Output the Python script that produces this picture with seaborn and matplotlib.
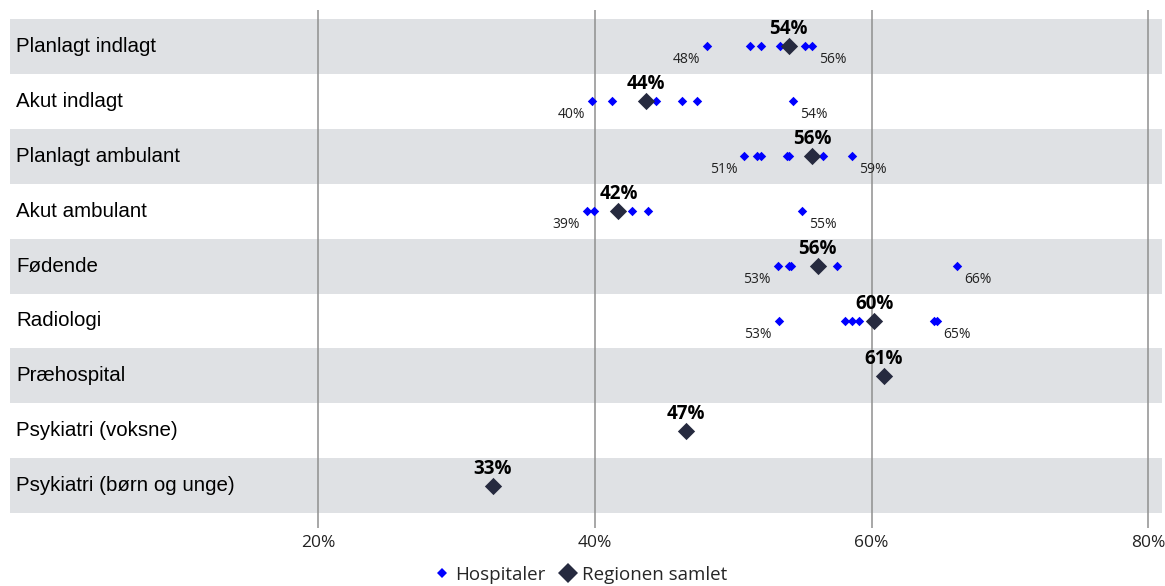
import pandas as pd
import seaborn as sns
import matplotlib.pyplot as plt
from matplotlib.lines import Line2D
from matplotlib.ticker import FuncFormatter

# Data (andel i %)
kategorier = [
    "Planlagt indlagt", "Akut indlagt", "Planlagt ambulant", "Akut ambulant",
    "Fødende", "Radiologi", "Præhospital", "Psykiatri (voksne)",
    "Psykiatri (børn og unge)",
]
hospitaler = [
    [48.1, 51.2, 52.0, 53.4, 55.2, 55.7],
    [39.8, 41.2, 44.4, 46.3, 47.4, 54.3],
    [50.8, 51.7, 52.0, 53.9, 54.0, 56.5, 58.6],
    [39.4, 39.95, 42.7, 43.8, 55.0],
    [53.2, 54.0, 54.2, 57.5, 66.2],
    [53.3, 58.1, 58.6, 59.1, 64.5, 64.7],
    [],
    [],
    [],
]
region_samlet = [54.0, 43.7, 55.7, 41.7, 56.1, 60.2, 60.9, 46.6, 32.6]
x_ticks = [20, 40, 60, 80]

BLAA = "#0000ff"
MORK = "#262a3f"
GRAA_BAAND = "#dfe1e4"

hosp_df = pd.DataFrame(
    [(k, v) for k, vals in zip(kategorier, hospitaler) for v in vals],
    columns=["kategori", "andel"],
)
reg_df = pd.DataFrame({"kategori": kategorier, "andel": region_samlet})

sns.set_style("white")
plt.rcParams["font.family"] = ["Open Sans", "DejaVu Sans"]

fig = plt.figure(figsize=(11.65, 5.86), dpi=100)
ax = fig.add_axes([10 / 1165, 1 - 528 / 586, 1152 / 1165, 518 / 586])

# grå/hvide bånd
for i in range(len(kategorier)):
    if i % 2 == 0:
        ax.axhspan(i - 0.5, i + 0.5, color=GRAA_BAAND, lw=0, zorder=0)
for t in x_ticks:
    ax.axvline(t, color="#8f8f8f", lw=1.1, zorder=1)

sns.stripplot(data=hosp_df, x="andel", y="kategori", order=kategorier,
              jitter=False, marker="D", size=4.8, color=BLAA, linewidth=0,
              ax=ax, zorder=3)
sns.stripplot(data=reg_df, x="andel", y="kategori", order=kategorier,
              jitter=False, marker="D", size=8.8, color=MORK, linewidth=0,
              ax=ax, zorder=4)

# etiketter: min/max for hospitaler, samlet værdi over
for i, (vals, r) in enumerate(zip(hospitaler, region_samlet)):
    if vals:
        lo, hi = min(vals), max(vals)
        ax.annotate(f"{round(lo)}%", (lo, i), xytext=(-5, -9.5),
                    textcoords="offset points", ha="right", va="center",
                    fontsize=10, color="#222222")
        ax.annotate(f"{round(hi)}%", (hi, i), xytext=(5, -9.5),
                    textcoords="offset points", ha="left", va="center",
                    fontsize=10, color="#222222")
    ax.annotate(f"{round(r)}%", (r, i), xytext=(0, 12.5),
                textcoords="offset points", ha="center", va="center",
                fontsize=13.5, fontweight="bold", color="black")
    ax.text(6 / 1152, i, kategorier[i], transform=ax.get_yaxis_transform(),
            ha="left", va="center", fontsize=14.8, family="Liberation Sans",
            color="black")

ax.set_xlim(-2.3, 81.0)
ax.set_ylim(8.764, -0.655)
ax.set_xticks(x_ticks)
ax.xaxis.set_major_formatter(FuncFormatter(lambda v, p: f"{v:.0f}%"))
ax.set_yticks([])
ax.tick_params(axis="x", length=0, pad=5, labelsize=12.5, colors="#222222")
ax.set_xlabel("")
ax.set_ylabel("")
for s in ax.spines.values():
    s.set_visible(False)

handles = [
    Line2D([], [], marker="D", ls="", color=BLAA, markersize=5.5, mew=0),
    Line2D([], [], marker="D", ls="", color=MORK, markersize=10, mew=0),
]
fig.legend(handles, ["Hospitaler", "Regionen samlet"], loc="center",
           bbox_to_anchor=(0.497, 0.019), ncol=2, frameon=False,
           fontsize=13.5, handletextpad=0.1, columnspacing=0.6,
           handlelength=1.2)

fig.savefig("out.png", dpi=100)
